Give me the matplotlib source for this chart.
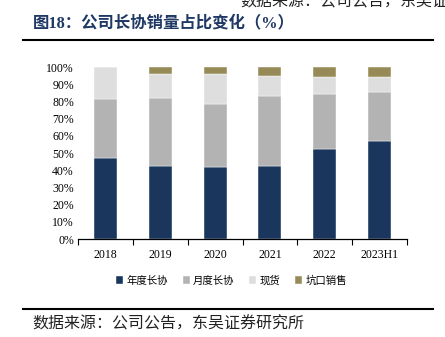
import matplotlib.pyplot as plt
import numpy as np
from matplotlib.lines import Line2D
from matplotlib.ticker import PercentFormatter

plt.rcParams['font.family'] = ['Liberation Serif', 'Noto Sans CJK SC']

years = ["2018", "2019", "2020", "2021", "2022", "2023H1"]
annual = [47.3, 42.8, 42.2, 42.6, 52.7, 56.8]
monthly = [34.5, 39.6, 36.3, 40.9, 32.0, 29.1]
spot = [18.2, 13.5, 17.5, 11.3, 9.5, 8.3]
pithead = [0.0, 4.1, 4.0, 5.2, 5.8, 5.8]

series = [
    ("年度长协", annual, "#1a365d"),
    ("月度长协", monthly, "#b3b3b3"),
    ("现货", spot, "#dedede"),
    ("坑口销售", pithead, "#968b57"),
]

fig = plt.figure(figsize=(4.45, 3.37), dpi=100)
ax = fig.add_axes([0.1753, 0.2908, 0.7393, 0.5095])

x = np.arange(len(years))
bottom = np.zeros(len(years))
for name, vals, color in series:
    ax.bar(x, vals, width=0.42, bottom=bottom, color=color, label=name,
           edgecolor="white", linewidth=0.3)
    bottom += np.array(vals)

ax.set_xlim(-0.5, len(years) - 0.5)
ax.set_ylim(0, 100)
ax.set_yticks(np.arange(0, 101, 10))
ax.yaxis.set_major_formatter(PercentFormatter(decimals=0))
ax.set_xticks(x)
ax.set_xticklabels(years)
ax.set_xticks(np.arange(-0.5, len(years), 1), minor=True)
ax.tick_params(axis="x", which="major", length=0, pad=7, labelsize=8.5)
ax.tick_params(axis="x", which="minor", length=4, direction="out", width=0.8)
ax.tick_params(axis="y", length=0, pad=3, labelsize=8.5)
for s in ("top", "right", "left"):
    ax.spines[s].set_visible(False)
ax.spines["bottom"].set_linewidth(0.9)

leg = fig.legend(loc="center", bbox_to_anchor=(0.52, 0.168), ncol=4, frameon=False,
                 handlelength=0.7, handleheight=0.7, handletextpad=0.3,
                 columnspacing=1.4, prop={'family': 'Noto Sans CJK SC', 'size': 7.5})

# header / footer
fig.text(0.54, 0.995, "数据来源：公司公告，东吴证券研究所", ha="left", va="center",
         fontsize=11.5, family="Noto Sans CJK SC", color="#222222")
fig.text(0.074, 0.93, "图18：公司长协销量占比变化（%）", ha="left", va="center",
         fontsize=11.8, fontweight="bold", color="#1f3864",
         family=['Liberation Serif', 'Noto Sans CJK SC'])
fig.add_artist(Line2D([0.052, 0.973], [0.881, 0.881], color="black", linewidth=1.5,
                      transform=fig.transFigure))
fig.add_artist(Line2D([0.052, 0.973], [0.083, 0.083], color="black", linewidth=1.5,
                      transform=fig.transFigure))
fig.text(0.072, 0.04, "数据来源：公司公告，东吴证券研究所", ha="left", va="center",
         fontsize=11.5, family="Noto Sans CJK SC", color="#222222")

fig.savefig("out.png", dpi=100)
